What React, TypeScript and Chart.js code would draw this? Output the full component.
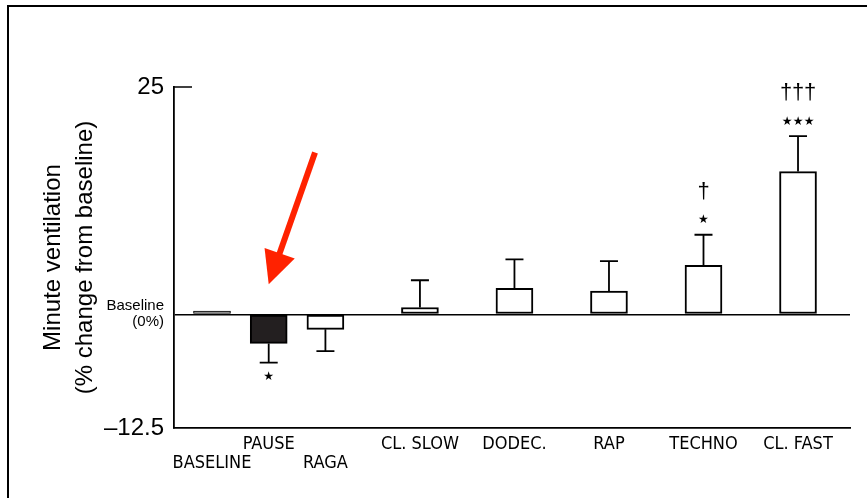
import React, { useEffect, useRef } from "react";
import { Chart, registerables } from "chart.js";

Chart.register(...registerables);

// ---- data ----
const categories = ["BASELINE", "PAUSE", "RAGA", "CL. SLOW", "DODEC.", "RAP", "TECHNO", "CL. FAST"];
const categoryX = [0, 0.6, 1.2, 2.2, 3.2, 4.2, 5.2, 6.2];
const lowerRowLabel = [true, false, true, false, false, false, false, false];
const meanChange = [0.35, -3.2, -1.65, 0.75, 2.85, 2.55, 5.4, 15.7];
const semChange = [0, 2.1, 2.4, 3.0, 3.2, 3.3, 3.35, 3.9];
const starCount = [0, 1, 0, 0, 0, 0, 1, 3];
const daggerCount = [0, 0, 0, 0, 0, 0, 1, 3];
const yTickValues = [-12.5, 0, 25];
const yTickLabels: (string | string[])[] = ["\u201312.5", ["Baseline", "(0%)"], "25"];
const titleLines = ["Minute ventilation", "(% change from baseline)"];
const highlightIndex = 1; // PAUSE
const arrowTipY = 3.3;
const arrowTailY = 17.8;
const arrowTailDx = 0.49;

const BLACK = "#000000";
const NARROW = "'Liberation Sans Narrow', 'DejaVu Sans Condensed', 'Liberation Sans', sans-serif";
const SANS = "'Liberation Sans', Arial, sans-serif";

const overlayPlugin = {
  id: "overlay",
  afterDatasetsDraw(chart: any) {
    const ctx = chart.ctx as CanvasRenderingContext2D;
    const xs = chart.scales.x;
    const ys = chart.scales.y;
    const area = chart.chartArea;
    ctx.save();
    ctx.strokeStyle = BLACK;
    ctx.lineWidth = 1.5;
    // inward tick at the top value
    const yTop = ys.getPixelForValue(yTickValues[yTickValues.length - 1]);
    ctx.beginPath();
    ctx.moveTo(area.left, yTop);
    ctx.lineTo(area.left + 18, yTop);
    ctx.stroke();

    ctx.lineWidth = 1.8;
    categories.forEach((_, i) => {
      const s = semChange[i];
      if (!s) return;
      const m = meanChange[i];
      const end = m >= 0 ? m + s : m - s;
      const px = xs.getPixelForValue(categoryX[i]);
      const p0 = ys.getPixelForValue(m);
      const p1 = ys.getPixelForValue(end);
      ctx.beginPath();
      ctx.moveTo(px, p0);
      ctx.lineTo(px, p1);
      ctx.moveTo(px - 9, p1);
      ctx.lineTo(px + 9, p1);
      ctx.stroke();

      const dir = m >= 0 ? -1 : 1;
      ctx.fillStyle = BLACK;
      ctx.textAlign = "center";
      ctx.textBaseline = "middle";
      const ns = starCount[i];
      if (ns) {
        ctx.font = "12px 'DejaVu Sans'";
        for (let k = 0; k < ns; k++) {
          ctx.fillText("\u2605", px + (k - (ns - 1) / 2) * 11, p1 + dir * 14.5);
        }
      }
      const nd = daggerCount[i];
      if (nd) {
        ctx.font = "22px " + SANS;
        for (let k = 0; k < nd; k++) {
          ctx.fillText("\u2020", px + (k - (nd - 1) / 2) * 12, p1 + dir * 43);
        }
      }
    });

    // red arrow pointing at the highlighted bar
    const tipX = xs.getPixelForValue(categoryX[highlightIndex]);
    const tipY = ys.getPixelForValue(arrowTipY);
    const tailX = xs.getPixelForValue(categoryX[highlightIndex] + arrowTailDx);
    const tailY = ys.getPixelForValue(arrowTailY);
    const dx = tipX - tailX;
    const dy = tipY - tailY;
    const len = Math.hypot(dx, dy);
    const ux = dx / len;
    const uy = dy / len;
    const headLen = 33;
    const headHalf = 16;
    const bx = tipX - ux * headLen;
    const by = tipY - uy * headLen;
    ctx.strokeStyle = "#ff2200";
    ctx.fillStyle = "#ff2200";
    ctx.lineWidth = 6;
    ctx.lineCap = "butt";
    ctx.beginPath();
    ctx.moveTo(tailX, tailY);
    ctx.lineTo(bx + ux * 4, by + uy * 4);
    ctx.stroke();
    ctx.beginPath();
    ctx.moveTo(tipX, tipY);
    ctx.lineTo(bx - uy * headHalf, by + ux * headHalf);
    ctx.lineTo(bx + uy * headHalf, by - ux * headHalf);
    ctx.closePath();
    ctx.fill();
    ctx.restore();
  },
};

export default function App() {
  const canvasRef = useRef<HTMLCanvasElement | null>(null);

  useEffect(() => {
    const canvas = canvasRef.current;
    if (!canvas) return;
    const chart = new Chart(canvas, {
      type: "bar",
      data: {
        datasets: [
          {
            data: categories.map((_, i) => ({ x: categoryX[i], y: meanChange[i] })),
            backgroundColor: categories.map((_, i) =>
              i === 0 ? "#a8a8a8" : i === highlightIndex ? "#231f20" : "#ffffff"
            ),
            borderColor: BLACK,
            borderWidth: categories.map((_, i) => (i === 0 ? 1 : 2)),
            barThickness: 37,
            borderSkipped: false,
          } as any,
        ],
      },
      options: {
        responsive: false,
        animation: false,
        events: [],
        layout: { padding: { left: 0, top: 87, right: 17, bottom: 0 } },
        plugins: { legend: { display: false }, tooltip: { enabled: false } },
        scales: {
          x: {
            type: "linear",
            min: -0.402,
            max: 6.75,
            offset: false,
            grid: { display: false, drawTicks: false, offset: false },
            border: { display: true, color: BLACK, width: 1.8 },
            afterBuildTicks: (s: any) => {
              s.ticks = categoryX.map((v) => ({ value: v }));
            },
            afterFit: (s: any) => {
              s.height = 70;
            },
            ticks: {
              autoSkip: false,
              maxRotation: 0,
              minRotation: 0,
              padding: 6,
              color: BLACK,
              font: { family: NARROW, size: 18, lineHeight: 1.1 },
              callback: (v: any) => {
                const i = categoryX.indexOf(Number(v));
                if (i < 0) return "";
                return lowerRowLabel[i] ? ["", categories[i]] : categories[i];
              },
            },
          },
          y: {
            type: "linear",
            min: yTickValues[0],
            max: yTickValues[yTickValues.length - 1],
            afterBuildTicks: (s: any) => {
              s.ticks = yTickValues.map((v) => ({ value: v }));
            },
            afterFit: (s: any) => {
              s.width = 174;
            },
            grid: {
              display: true,
              drawTicks: false,
              color: (c: any) => (c.tick && c.tick.value === 0 ? BLACK : "rgba(0,0,0,0)"),
              lineWidth: 1.6,
            },
            border: { display: true, color: BLACK, width: 1.8 },
            ticks: {
              padding: 10,
              color: BLACK,
              font: (c: any) =>
                c.tick && c.tick.value === 0
                  ? { family: SANS, size: 15, lineHeight: 1.07 }
                  : { family: SANS, size: 24, lineHeight: 1.2 },
              callback: (v: any) => {
                const i = yTickValues.indexOf(Number(v));
                return i < 0 ? "" : yTickLabels[i];
              },
            },
            title: {
              display: true,
              text: titleLines,
              color: BLACK,
              font: { family: SANS, size: 24, lineHeight: 1.333 },
              padding: { top: 37, bottom: 0 },
            },
          },
        },
      } as any,
      plugins: [overlayPlugin],
    });
    return () => chart.destroy();
  }, []);

  return (
    <div style={{ position: "fixed", left: 0, top: 0, width: 867, height: 498, background: "#fff", overflow: "hidden" }}>
      <div
        style={{
          position: "absolute",
          left: 7,
          top: 5,
          width: 870,
          height: 500,
          borderLeft: "2px solid #000",
          borderTop: "2px solid #000",
        }}
      />
      <canvas ref={canvasRef} width={867} height={498} style={{ position: "absolute", left: 0, top: 0, display: "block" }} />
    </div>
  );
}
